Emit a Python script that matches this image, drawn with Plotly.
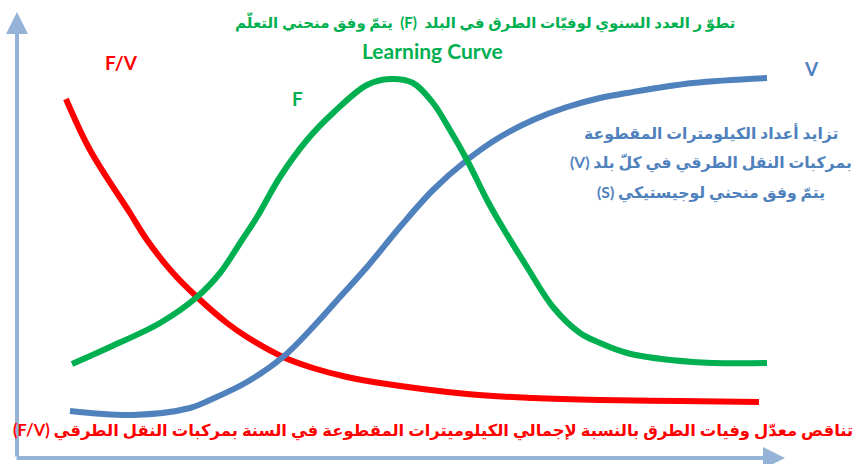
import plotly.graph_objects as go

# curve values (x = time position, y = height above baseline)
fv_x = [66, 90, 130, 147, 173, 197, 227, 247, 283, 313, 347, 380, 467, 533, 600, 680, 759]
fv_y = [365, 314, 251, 224, 191, 167, 141, 127, 107, 96, 87, 81, 70, 66, 64, 63, 62]

f_x = [72, 110, 160, 197, 220, 242, 257, 280, 307, 333, 367, 390, 413, 433, 450,
       467, 487, 500, 527, 553, 580, 600, 627, 693, 767]
f_y = [100, 117, 141, 167, 191, 224, 247, 287, 324, 351, 379, 385, 381, 361, 334,
       304, 264, 241, 197, 157, 131, 121, 111, 102, 101]

v_x = [70, 133, 190, 210, 247, 283, 313, 340, 367, 400, 433, 467, 500, 533, 567,
       600, 627, 693, 767]
v_y = [53, 49, 56, 64, 82, 107, 137, 167, 197, 237, 274, 304, 327, 344, 357,
       366, 371, 381, 386]

title_ar = "تطوّ ر العدد السنوي لوفيّات الطرق في البلد  (F)  يتمّ وفق منحني التعلّم"
title_en = "Learning Curve"
v_text = ["تزايد أعداد الكيلومترات المقطوعة",
          "بمركبات النقل الطرقي في كلّ بلد (V)",
          "يتمّ وفق منحني لوجيستيكي (S)"]
fv_text = "تناقص معدّل وفيات الطرق بالنسبة لإجمالي الكيلوميترات المقطوعة في السنة بمركبات النقل الطرقي (F/V)"

RED = "#FF0000"
GREEN = "#00B050"
BLUE = "#4F81BD"
AXIS = "#95B3D7"
FONT = "Lato, DejaVu Sans"


def rtl(s):
    # right-to-left embedding so the brackets land where they should
    return "<b>\u202b" + s + "\u202c</b>"


fig = go.Figure()
fig.add_trace(go.Scatter(x=fv_x, y=fv_y, mode="lines", line=dict(color=RED, width=6, shape="spline")))
fig.add_trace(go.Scatter(x=v_x, y=v_y, mode="lines", line=dict(color=BLUE, width=6, shape="spline")))
fig.add_trace(go.Scatter(x=f_x, y=f_y, mode="lines", line=dict(color=GREEN, width=6, shape="spline")))

# axis arrows
fig.add_annotation(x=17, y=452, ax=17, ay=6, xref="x", yref="y", axref="x", ayref="y",
                   showarrow=True, arrowhead=2, arrowsize=1.1, arrowwidth=4, arrowcolor=AXIS, text="")
fig.add_annotation(x=785, y=6, ax=15, ay=6, xref="x", yref="y", axref="x", ayref="y",
                   showarrow=True, arrowhead=2, arrowsize=1.1, arrowwidth=4, arrowcolor=AXIS, text="")

# labels
fig.add_annotation(x=121, y=402, text="<b>F/V</b>", showarrow=False, font=dict(family=FONT, size=19, color=RED))
fig.add_annotation(x=297, y=366, text="<b>F</b>", showarrow=False, font=dict(family=FONT, size=19, color=GREEN))
fig.add_annotation(x=811, y=396, text="<b>V</b>", showarrow=False, font=dict(family=FONT, size=19, color=BLUE))

fig.add_annotation(x=485, y=442, text=rtl(title_ar), showarrow=False,
                   font=dict(family=FONT, size=15, color=GREEN))
fig.add_annotation(x=432, y=414, text="<b>" + title_en + "</b>", showarrow=False,
                   font=dict(family=FONT, size=21, color=GREEN))
for i, line in enumerate(v_text):
    fig.add_annotation(x=711, y=331 - 30 * i, text=rtl(line), showarrow=False,
                       font=dict(family=FONT, size=15.7, color=BLUE))
fig.add_annotation(x=433, y=34, text=rtl(fv_text), showarrow=False,
                   font=dict(family=FONT, size=16.4, color=RED))

fig.update_xaxes(range=[0, 858], visible=False)
fig.update_yaxes(range=[0, 464], visible=False)
fig.update_layout(width=858, height=464, margin=dict(l=0, r=0, t=0, b=0),
                  plot_bgcolor="white", paper_bgcolor="white", showlegend=False)

fig.write_html("out.html", config={"displayModeBar": False},
               post_script="document.body.style.margin='0';")
